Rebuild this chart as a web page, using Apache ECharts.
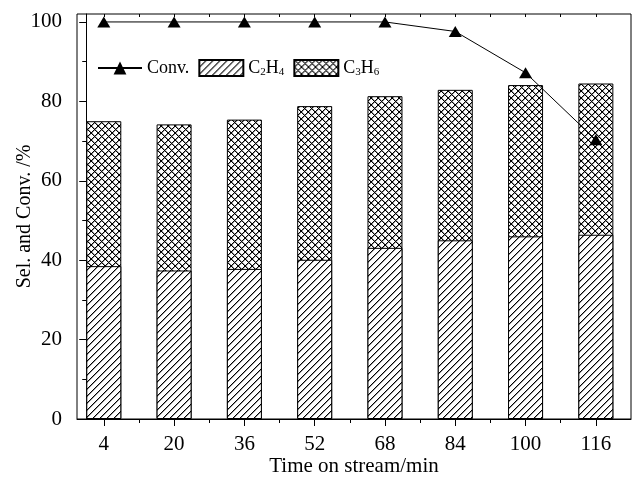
<!DOCTYPE html>
<html>
<head>
<meta charset="utf-8">
<script src="https://cdn.jsdelivr.net/npm/echarts@6/dist/echarts.min.js"></script>
<style>html,body{margin:0;padding:0;background:#fff}#c{width:632px;height:480px}</style>
</head>
<body>
<div id="c"></div>
<script>
// ---- data ----
var times = [4, 20, 36, 52, 68, 84, 100, 116];
var c2h4 = [38.5, 37.4, 37.8, 40.1, 43.1, 45.0, 46.0, 46.4];
var total = [75.0, 74.2, 75.4, 78.8, 81.3, 82.9, 84.1, 84.5]; // C2H4 + C3H6 (top of stacked bar)
var conv = [100, 100, 100, 100, 100, 97.6, 87.2, 70.3];
var yTicks = [0, 20, 40, 60, 80, 100];
var yMinor = [10, 30, 50, 70, 90];
var xMinor = [12, 28, 44, 60, 76, 92, 108];

function pat(kind) {
  var s = 7, cv = document.createElement('canvas');
  cv.width = s; cv.height = s;
  var g = cv.getContext('2d');
  g.fillStyle = '#fff'; g.fillRect(0, 0, s, s);
  for (var i = 0; i < s; i++) {
    g.fillStyle = '#999';
    g.fillRect((i + 1) % s, s - 1 - i, 1, 1);
    if (kind === 'cross') g.fillRect((i + 1) % s, i, 1, 1);
  }
  g.fillStyle = '#000';
  for (var j = 0; j < s; j++) {
    g.fillRect(j, s - 1 - j, 1, 1);
    if (kind === 'cross') g.fillRect(j, j, 1, 1);
  }
  return { image: cv, repeat: 'repeat' };
}

var FONT = 'Liberation Serif';
var TICKFS = 21;
var pair = function (a, b) { return a.map(function (t, i) { return [t, b[i]]; }); };

var chart = echarts.init(document.getElementById('c'), null, { renderer: 'canvas' });
chart.setOption({
  animation: false,
  backgroundColor: '#fff',
  grid: { left: 77, right: 1, top: 14, bottom: 61, outerBoundsMode: 'none', containLabel: false,
          show: true, borderColor: '#000', borderWidth: 1, backgroundColor: 'transparent' },
  legend: {
    left: 92, top: 54, itemWidth: 44, itemHeight: 16, itemGap: 9,
    textStyle: {
      fontFamily: FONT, fontSize: 18, color: '#000',
      rich: {
        n: { fontFamily: FONT, fontSize: 18, color: '#000', lineHeight: 20 },
        s: { fontFamily: FONT, fontSize: 11, color: '#000', lineHeight: 11, verticalAlign: 'bottom' }
      }
    },
    formatter: function (name) {
      if (name === 'C2H4') return '{n|C}{s|2}{n|H}{s|4}';
      if (name === 'C3H6') return '{n|C}{s|3}{n|H}{s|6}';
      return '{n|' + name + '}';
    },
    data: [{ name: 'Conv.' }, { name: 'C2H4', icon: 'rect' }, { name: 'C3H6', icon: 'rect' }]
  },
  xAxis: [
    {
      type: 'value', min: -2.1, max: 124, position: 'bottom',
      name: 'Time on stream/min', nameLocation: 'middle', nameGap: 37, nameMoveOverlap: false,
      nameTextStyle: { fontFamily: FONT, fontSize: 21, color: '#000' },
      axisLine: { show: true, lineStyle: { color: '#000', width: 1 } },
      axisTick: { show: true, inside: false, length: 7, customValues: times, lineStyle: { color: '#000' } },
      axisLabel: { customValues: times, margin: 15, fontFamily: FONT, fontSize: TICKFS, color: '#000' },
      splitLine: { show: false }
    },
    {
      type: 'value', min: -2.1, max: 124, position: 'bottom', gridIndex: 0,
      axisLine: { show: false },
      axisTick: { show: true, length: 4, customValues: xMinor, lineStyle: { color: '#000' } },
      axisLabel: { show: false }, splitLine: { show: false }
    },
    {
      type: 'value', min: -2.1, max: 124, position: 'top', gridIndex: 0,
      axisLine: { show: false },
      axisTick: { show: true, inside: true, length: 3, customValues: times.concat(xMinor), lineStyle: { color: '#000' } },
      axisLabel: { show: false }, splitLine: { show: false }
    }
  ],
  yAxis: [
    {
      type: 'value', min: 0, max: 102,
      name: 'Sel. and Conv. /%', nameLocation: 'middle', nameGap: 42, nameRotate: 90, nameMoveOverlap: false,
      nameTextStyle: { fontFamily: FONT, fontSize: 20, color: '#000' },
      axisLine: { show: true, lineStyle: { color: '#000', width: 1 } },
      axisTick: { show: true, length: 7, customValues: yTicks, lineStyle: { color: '#000' } },
      axisLabel: { customValues: yTicks, margin: 15, fontFamily: FONT, fontSize: TICKFS, color: '#000' },
      splitLine: { show: false }
    },
    {
      type: 'value', min: 0, max: 102, position: 'left',
      axisLine: { show: false },
      axisTick: { show: true, length: 4, customValues: yMinor, lineStyle: { color: '#000' } },
      axisLabel: { show: false }, splitLine: { show: false }
    }
  ],
  series: [
    {
      name: 'C3H6', type: 'bar', barWidth: 35, barGap: '-100%', xAxisIndex: 0, yAxisIndex: 0,
      itemStyle: { color: pat('cross'), borderColor: '#000', borderWidth: 1 },
      data: pair(times, total), z: 2
    },
    {
      name: 'C2H4', type: 'bar', barWidth: 35, barGap: '-100%', xAxisIndex: 0, yAxisIndex: 0,
      itemStyle: { color: pat('diag'), borderColor: '#000', borderWidth: 1 },
      data: pair(times, c2h4), z: 3
    },
    {
      name: 'Conv.', type: 'line', xAxisIndex: 0, yAxisIndex: 0,
      symbol: 'triangle', symbolSize: [13, 11], showSymbol: true,
      lineStyle: { color: '#000', width: 1 },
      itemStyle: { color: '#000' },
      data: pair(times, conv), z: 5
    }
  ]
});
</script>
</body>
</html>
